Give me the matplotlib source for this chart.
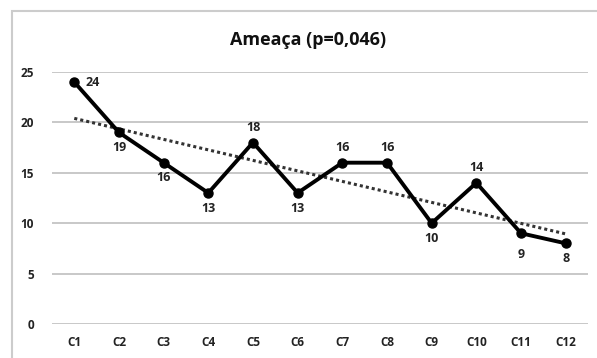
import matplotlib
matplotlib.use("Agg")

import matplotlib.pyplot as plt
import numpy as np
from matplotlib.patches import Rectangle

categories = ["C1", "C2", "C3", "C4", "C5", "C6", "C7", "C8", "C9", "C10", "C11", "C12"]
values = [24, 19, 16, 13, 18, 13, 16, 16, 10, 14, 9, 8]
# where each data label sits relative to its point
label_pos = ["right", "below", "below", "below", "above", "below",
             "above", "above", "below", "above", "below", "below"]
yticks = [0, 5, 10, 15, 20, 25]

plt.rcParams["font.family"] = ["Open Sans", "DejaVu Sans"]

fig = plt.figure(figsize=(5.97, 3.58), dpi=100)
ax = fig.add_axes([0.087, 0.095, 0.898, 0.704])

x = np.arange(len(categories))
ax.plot(x, values, color="black", lw=2.8, marker="o", ms=6.5, zorder=3)

# linear trend line
slope, intercept = np.polyfit(x, values, 1)
ax.plot(x, slope * x + intercept, color="#333333", lw=2.2, ls=(0, (1, 1)), zorder=2)

offsets = {"right": (8, 0), "below": (0, -11), "above": (0, 11)}
for xi, v, pos in zip(x, values, label_pos):
    dx, dy = offsets[pos]
    if v == 9:
        dy = -15
    ha = "left" if pos == "right" else "center"
    ax.annotate(str(v), (xi, v), xytext=(dx, dy), textcoords="offset points",
                ha=ha, va="center", fontsize=9, fontweight="bold", color="#222222")

ax.set_xlim(-0.5, len(categories) - 0.5)
ax.set_ylim(0, 25)
ax.set_xticks(x)
ax.set_xticklabels(categories, fontsize=8.5, fontweight="bold", color="#222222")
ax.set_yticks(yticks)
ax.set_yticklabels([str(t) for t in yticks], fontsize=8.5, fontweight="bold", color="#222222")
ax.tick_params(length=0, pad=9)
ax.tick_params(axis="y", pad=13)
ax.grid(axis="y", color="#c4c4c4", lw=1.3)
ax.set_axisbelow(True)
for s in ax.spines.values():
    s.set_visible(False)

fig.text(0.516, 0.888, "Ameaça (p=0,046)", ha="center", va="center", fontsize=13,
         fontweight="bold", color="#111111")

fig.patches.append(Rectangle((12 / 597, -0.05), 1.0, 1 - 11 / 358 + 0.05,
                             transform=fig.transFigure, fill=False,
                             edgecolor="#cccccc", lw=1.5))

fig.savefig("out.png", dpi=100)
plt.close(fig)
